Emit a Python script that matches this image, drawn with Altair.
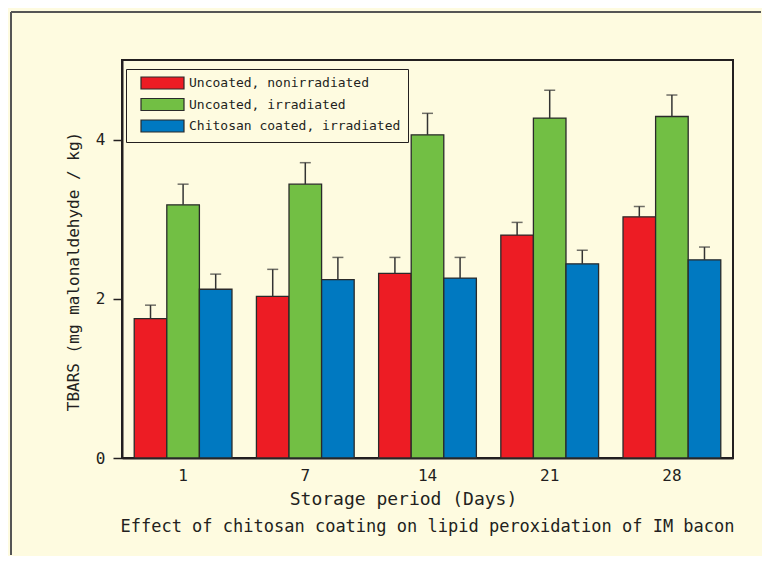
import altair as alt
import pandas as pd

days = ["1", "7", "14", "21", "28"]
series = ["Uncoated, nonirradiated", "Uncoated, irradiated", "Chitosan coated, irradiated"]
colors = ["#ED1C24", "#72BF44", "#0079C1"]

red_mean = [1.75, 2.03, 2.32, 2.80, 3.03]
green_mean = [3.18, 3.44, 4.06, 4.27, 4.29]
blue_mean = [2.12, 2.24, 2.26, 2.44, 2.49]

red_err = [0.17, 0.34, 0.20, 0.16, 0.13]
green_err = [0.26, 0.27, 0.27, 0.35, 0.27]
blue_err = [0.19, 0.28, 0.26, 0.17, 0.16]

y_ticks = [0, 2, 4]

rows = []
for name, means, errs in zip(series, [red_mean, green_mean, blue_mean], [red_err, green_err, blue_err]):
    for d, m, e in zip(days, means, errs):
        rows.append({"day": d, "series": name, "value": m, "upper": round(m + e, 3)})
df = pd.DataFrame(rows)

FONT = "DejaVu Sans Mono"
INK = "#231F20"
CREAM = "#FEFBE0"

base = alt.Chart(df).encode(
    x=alt.X(
        "day:N",
        sort=days,
        scale=alt.Scale(paddingInner=0.2, paddingOuter=0.1),
        axis=alt.Axis(
            title="Storage period (Days)",
            labelAngle=0,
            ticks=False,
            labelPadding=9,
            labelFont=FONT,
            labelFontSize=16,
            labelColor=INK,
            domainColor=INK,
            domainWidth=2,
            titleFont=FONT,
            titleFontSize=18,
            titleFontWeight="normal",
            titleColor=INK,
            titleX=281,
            titleY=41,
            titleAlign="center",
            titleBaseline="middle",
        ),
    ),
    xOffset=alt.XOffset("series:N", sort=series, scale=alt.Scale(paddingInner=0, paddingOuter=0)),
)

bars = base.mark_bar(stroke="#2a2a2a", strokeWidth=1.3).encode(
    y=alt.Y(
        "value:Q",
        scale=alt.Scale(domain=[0, 5], nice=False),
        axis=alt.Axis(
            title="TBARS (mg malonaldehyde / kg)",
            values=y_ticks,
            format="d",
            grid=False,
            tickSize=9,
            tickWidth=1.5,
            tickColor=INK,
            labelPadding=8,
            labelFont=FONT,
            labelFontSize=16,
            labelColor=INK,
            domainColor=INK,
            domainWidth=2,
            titleFont=FONT,
            titleFontSize=16,
            titleFontWeight="normal",
            titleColor=INK,
            titleX=-49,
            titleY=211,
            titleAlign="center",
            titleBaseline="middle",
        ),
    ),
    color=alt.Color(
        "series:N",
        sort=series,
        scale=alt.Scale(domain=series, range=colors),
        legend=alt.Legend(
            title=None,
            orient="none",
            legendX=4,
            legendY=9,
            symbolType="M0.1667,-1H7.333V1H0.1667Z",
            symbolSize=144,
            symbolStrokeColor="#2a2a2a",
            symbolStrokeWidth=1.2,
            symbolOpacity=1,
            labelFont=FONT,
            labelFontSize=13,
            labelColor=INK,
            labelOffset=42,
            labelLimit=400,
            rowPadding=3.5,
            padding=7,
            strokeColor=INK,
            fillColor=CREAM,
        ),
    ),
)

whiskers = base.mark_rule(color="#333333", strokeWidth=1.5).encode(
    y="value:Q", y2="upper:Q"
)
caps = base.mark_tick(color="#333333", thickness=1.5, size=11, orient="horizontal").encode(
    y="upper:Q"
)

deco = pd.DataFrame({"k": [0]})
top_line = alt.Chart(deco).mark_rule(color="#555555", strokeWidth=2).encode(
    x=alt.value(-111), x2=alt.value(639), y=alt.value(-48)
)
left_line = alt.Chart(deco).mark_rule(color="#555555", strokeWidth=2).encode(
    x=alt.value(-111), y=alt.value(-48), y2=alt.value(495)
)

chart = alt.layer(top_line, left_line, bars, whiskers, caps).properties(
    width=611,
    height=398,
    padding={"left": 2, "top": 3, "right": 0, "bottom": 0},
    title=alt.TitleParams(
        "Effect of chitosan coating on lipid peroxidation of IM bacon",
        orient="bottom",
        frame="group",
        anchor="middle",
        offset=-37,
        font=FONT,
        fontSize=17,
        fontWeight="normal",
        color=INK,
    ),
).configure(background=CREAM).configure_view(stroke=INK, strokeWidth=2)

chart.save("out.html", embed_options={"renderer": "svg", "actions": False})
